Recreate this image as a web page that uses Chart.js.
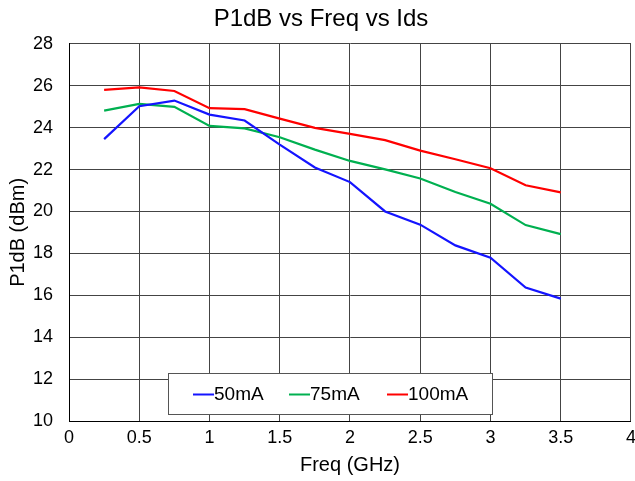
<!DOCTYPE html>
<html>
<head>
<meta charset="utf-8">
<script src="https://cdn.jsdelivr.net/npm/chart.js@4.4.1/dist/chart.umd.min.js"></script>
<style>
  html,body{margin:0;padding:0;background:#fff;overflow:hidden;}
  #wrap{position:relative;width:635px;height:481px;overflow:hidden;}
</style>
</head>
<body>
<div id="wrap"><canvas id="myChart" width="642" height="481"></canvas></div>
<script>
// frequency points (GHz)
const freq = [0.25, 0.5, 0.75, 1.0, 1.25, 1.5, 1.75, 2.0, 2.25, 2.5, 2.75, 3.0, 3.25, 3.5];
// P1dB (dBm) per bias current
const p1db50 = [23.45, 25.02, 25.29, 24.62, 24.34, 23.19, 22.1, 21.4, 20.0, 19.37, 18.38, 17.79, 16.37, 15.84];
const p1db75 = [24.81, 25.13, 24.99, 24.08, 23.96, 23.54, 22.95, 22.41, 22.01, 21.57, 20.93, 20.37, 19.35, 18.92];
const p1db100 = [25.8, 25.92, 25.75, 24.93, 24.88, 24.43, 23.99, 23.7, 23.4, 22.9, 22.49, 22.06, 21.25, 20.91];
const seriesNames = ["50mA", "75mA", "100mA"];

function toPoints(vals){
    return vals.map((v,i)=>({x:freq[i], y:v}));
}

const fontFam = "'Liberation Sans', Arial, sans-serif";

// legend drawn inside the plot, boxed
const boxLegend = {
    id:'boxLegend',
    afterDraw(chart){
        const ctx = chart.ctx;
        const a = chart.chartArea;
        const left = a.left + 99, top = a.bottom - 48, w = 324, h = 41;
        ctx.save();
        ctx.fillStyle = '#fff';
        ctx.fillRect(left, top, w, h);
        ctx.strokeStyle = '#555';
        ctx.lineWidth = 1;
        ctx.strokeRect(left + 0.5, top + 0.5, w, h);
        ctx.font = "19px " + fontFam;
        ctx.textBaseline = 'middle';
        const starts = [left + 25, left + 121, left + 219];
        chart.data.datasets.forEach((ds,i)=>{
            const x = starts[i], y = top + h/2 + 1;
            ctx.strokeStyle = ds.borderColor;
            ctx.lineWidth = 2;
            ctx.beginPath();
            ctx.moveTo(x, y);
            ctx.lineTo(x + 21, y);
            ctx.stroke();
            ctx.fillStyle = '#000';
            ctx.fillText(ds.label, x + 21, y);
        });
        ctx.restore();
    }
};

const data = {
    datasets:[
        {label:seriesNames[0], data:toPoints(p1db50), borderColor:'#1414ff'},
        {label:seriesNames[1], data:toPoints(p1db75), borderColor:'#00b050'},
        {label:seriesNames[2], data:toPoints(p1db100), borderColor:'#ff0000'},
    ].map(d=>Object.assign(d,{borderWidth:2.2, pointRadius:0, fill:false, tension:0}))
};

const ctx = document.getElementById('myChart').getContext('2d');
new Chart(ctx, {
    type:'line',
    data:data,
    plugins:[boxLegend],
    options:{
        responsive:false,
        animation:false,
        layout:{padding:{left:0, right:0, top:0, bottom:0}},
        scales:{
            x:{
                type:'linear',
                min:0, max:4,
                afterFit:(s)=>{ s.height = 60; },
                ticks:{stepSize:0.5, color:'#000', padding:6, font:{size:18, family:fontFam},
                    callback:(v)=>String(v)},
                grid:{color:'#444', lineWidth:1, drawTicks:false},
                border:{color:'#000', width:1},
                title:{display:true, text:'Freq (GHz)', color:'#000', padding:{top:2}, font:{size:20, family:fontFam}}
            },
            y:{
                min:10, max:28,
                afterFit:(s)=>{ s.width = 69; },
                ticks:{stepSize:2, color:'#000', padding:16, font:{size:18, family:fontFam}},
                grid:{color:'#444', lineWidth:1, drawTicks:false},
                border:{color:'#000', width:1},
                title:{display:true, text:'P1dB (dBm)', color:'#000', padding:{top:6, bottom:2}, font:{size:20, family:fontFam}}
            }
        },
        plugins:{
            legend:{display:false},
            tooltip:{enabled:false},
            title:{
                display:true,
                text:'P1dB vs Freq vs Ids',
                color:'#000',
                padding:{top:5, bottom:10},
                font:{size:24, weight:'normal', family:fontFam}
            }
        }
    }
});
</script>
</body>
</html>
